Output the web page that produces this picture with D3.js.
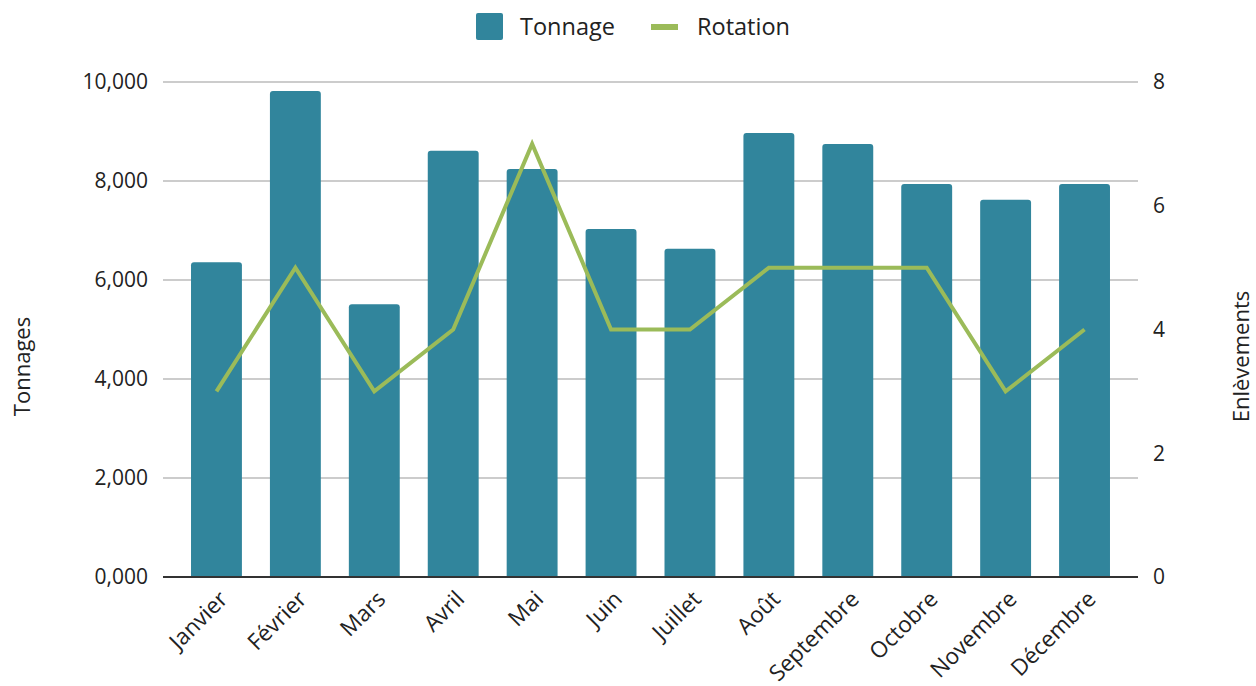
<!DOCTYPE html>
<html>
<head>
<meta charset="utf-8">
<script src="https://cdn.jsdelivr.net/npm/d3@7"></script>
<style>
  body { margin: 0; background: #fff; }
  text { font-family: "Open Sans", sans-serif; fill: #222; }
</style>
</head>
<body>
<div id="chart"></div>
<script>
const months = ["Janvier", "Février", "Mars", "Avril", "Mai", "Juin", "Juillet", "Août", "Septembre", "Octobre", "Novembre", "Décembre"];
const tonnage = [6360, 9820, 5510, 8610, 8240, 7030, 6630, 8970, 8750, 7940, 7620, 7940];
const rotation = [3, 5, 3, 4, 7, 4, 4, 5, 5, 5, 3, 4];
const leftTicks = [0, 2000, 4000, 6000, 8000, 10000];
const leftTickLabels = ["0,000", "2,000", "4,000", "6,000", "8,000", "10,000"];
const rightTicks = [0, 2, 4, 6, 8];

const width = 1256, height = 686;
const margin = { top: 82, right: 118, bottom: 109, left: 163 };

const svg = d3.select("#chart")
    .append("svg")
    .attr("width", width)
    .attr("height", height);

const x = d3.scaleBand()
    .domain(months)
    .range([margin.left, width - margin.right])
    .padding(0.355);

const y = d3.scaleLinear()
    .domain([0, 10000])
    .range([height - margin.bottom, margin.top]);

const y2 = d3.scaleLinear()
    .domain([0, 8])
    .range([height - margin.bottom, margin.top]);

// gridlines
svg.append("g")
    .selectAll("line")
    .data(leftTicks.slice(1))
    .enter()
    .append("line")
    .attr("x1", margin.left)
    .attr("x2", width - margin.right)
    .attr("y1", (d) => y(d))
    .attr("y2", (d) => y(d))
    .attr("stroke", "#cccccc")
    .attr("stroke-width", 2);

// left axis labels
svg.append("g")
    .selectAll("text")
    .data(leftTicks)
    .enter()
    .append("text")
    .attr("x", margin.left - 15)
    .attr("y", (d) => y(d))
    .attr("dy", "0.35em")
    .attr("text-anchor", "end")
    .style("font-size", "21px")
    .text((d, i) => leftTickLabels[i]);

// right axis labels
svg.append("g")
    .selectAll("text")
    .data(rightTicks)
    .enter()
    .append("text")
    .attr("x", width - margin.right + 15)
    .attr("y", (d) => y2(d))
    .attr("dy", "0.35em")
    .attr("text-anchor", "start")
    .style("font-size", "21px")
    .text((d) => d);

// bars with rounded tops
const r = 3;
svg.append("g")
    .selectAll("path")
    .data(tonnage)
    .enter()
    .append("path")
    .attr("fill", "#31859c")
    .attr("d", (d, i) => {
        const x0 = x(months[i]), w = x.bandwidth();
        const top = y(d), base = y(0);
        return `M${x0},${base} V${top + r} Q${x0},${top} ${x0 + r},${top} H${x0 + w - r} Q${x0 + w},${top} ${x0 + w},${top + r} V${base} Z`;
    });

// baseline
svg.append("line")
    .attr("x1", margin.left)
    .attr("x2", width - margin.right)
    .attr("y1", y(0))
    .attr("y2", y(0))
    .attr("stroke", "#333")
    .attr("stroke-width", 2);

// rotation line
svg.append("path")
    .datum(rotation)
    .attr("fill", "none")
    .attr("stroke", "#9bbb59")
    .attr("stroke-width", 4)
    .attr("stroke-linejoin", "miter")
    .attr("d", d3.line()
        .x((d, i) => x(months[i]) + x.bandwidth() / 2)
        .y((d) => y2(d)));

// x labels
svg.append("g")
    .selectAll("text")
    .data(months)
    .enter()
    .append("text")
    .attr("text-anchor", "end")
    .style("font-size", "22.5px")
    .attr("transform", (d) => `translate(${x(d) + x.bandwidth() / 2 + 7}, ${y(0) + 18}) rotate(-45)`)
    .attr("dy", "0.35em")
    .text((d) => d);

// axis titles
svg.append("text")
    .attr("transform", `translate(30, ${(y(0) + y(10000)) / 2 + 37}) rotate(-90)`)
    .attr("text-anchor", "middle")
    .style("font-size", "22px")
    .text("Tonnages");

svg.append("text")
    .attr("transform", `translate(1249, ${(y(0) + y(10000)) / 2 + 27}) rotate(-90)`)
    .attr("text-anchor", "middle")
    .style("font-size", "22px")
    .text("Enlèvements");

// legend
const legend = svg.append("g").attr("class", "legend");

legend.append("rect")
    .attr("x", 476)
    .attr("y", 13)
    .attr("width", 27)
    .attr("height", 27)
    .attr("rx", 2)
    .attr("fill", "#31859c");

legend.append("text")
    .attr("x", 520)
    .attr("y", 27)
    .attr("dy", "0.35em")
    .style("font-size", "23.5px")
    .text("Tonnage");

legend.append("line")
    .attr("x1", 651)
    .attr("x2", 678)
    .attr("y1", 27)
    .attr("y2", 27)
    .attr("stroke", "#9bbb59")
    .attr("stroke-width", 6);

legend.append("text")
    .attr("x", 697)
    .attr("y", 27)
    .attr("dy", "0.35em")
    .style("font-size", "23.5px")
    .text("Rotation");
</script>
</body>
</html>
